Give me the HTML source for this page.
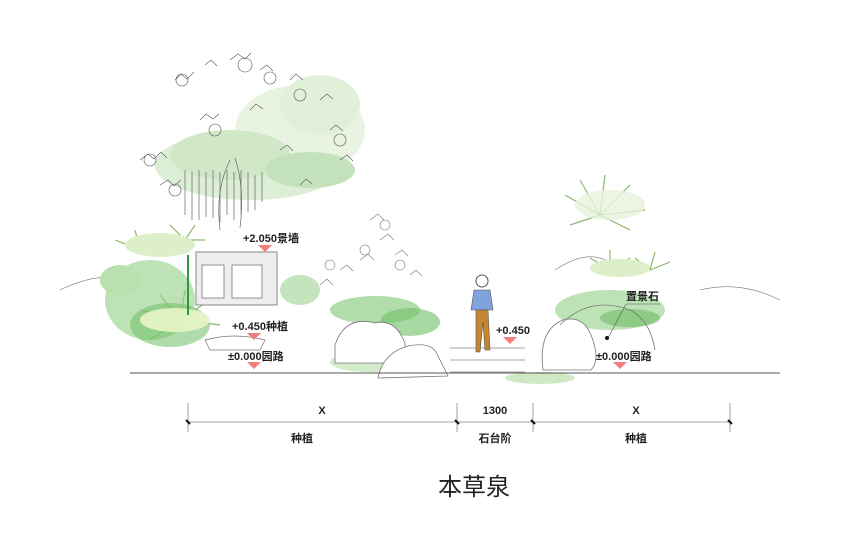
<!DOCTYPE html>
<html><head><meta charset="utf-8"><style>
html,body{margin:0;padding:0;background:#fff;width:860px;height:542px;overflow:hidden}
svg{display:block}
text{font-family:"Liberation Sans","Noto Sans CJK SC",sans-serif;fill:#222}
</style></head><body>
<svg width="860" height="542" viewBox="0 0 860 542">
<!-- tree canopy -->
<g opacity="0.85">
<ellipse cx="250" cy="165" rx="95" ry="35" fill="#d8ecd0"/>
<ellipse cx="300" cy="130" rx="65" ry="45" fill="#e4f2dc"/>
<ellipse cx="320" cy="105" rx="40" ry="30" fill="#dbeed3"/>
<ellipse cx="230" cy="155" rx="60" ry="25" fill="#c9e5bf"/>
<ellipse cx="310" cy="170" rx="45" ry="18" fill="#b9dcb0"/>
</g>
<g stroke="#666" stroke-width="0.7" fill="none">
<path d="M185 170 v45 M192 172 v48 M199 170 v50 M206 172 v45 M213 170 v48 M220 172 v50 M227 170 v45 M234 172 v48 M241 170 v45 M248 172 v40 M255 175 v35 M262 172 v30"/>
<path d="M220 230 q-5-40 10-70 M240 228 q5-40 -5-70"/>
</g>
<g stroke="#555" stroke-width="0.6" fill="none">
<path d="M140 160 l8-6 l6 5 l7-7 l6 6 M160 185 l8-5 6 6 7-6 M175 80 l6-6 6 5 7-7 M205 65 l6-5 6 6 M230 60 l8-6 7 5 6-6 M260 70 l7-5 6 6 M290 80 l6-6 7 6 M320 100 l7-6 6 5 M330 130 l6-5 7 6 M340 160 l7-5 6 6 M200 120 l6-6 7 5 6-5 M250 110 l6-6 7 5 M280 150 l7-5 6 6 M300 185 l6-6 6 5"/>
<circle cx="182" cy="80" r="6"/><circle cx="245" cy="65" r="7"/><circle cx="270" cy="78" r="6"/><circle cx="300" cy="95" r="6"/>
<circle cx="150" cy="160" r="6"/><circle cx="175" cy="190" r="6"/><circle cx="215" cy="130" r="6"/><circle cx="340" cy="140" r="6"/>
</g>
<!-- sketch mid trees -->
<g stroke="#777" stroke-width="0.6" fill="none">
<path d="M370 220 l8-6 6 6 M380 240 l8-6 6 6 M360 260 l8-6 6 6 M395 255 l7-5 6 6 M340 270 l7-5 6 6 M410 275 l6-5 6 6 M320 285 l7-6 6 6"/>
<circle cx="385" cy="225" r="5"/><circle cx="365" cy="250" r="5"/><circle cx="400" cy="265" r="5"/><circle cx="330" cy="265" r="5"/>
<path d="M60 290 q40-20 80-10 M700 290 q40-10 80 10 M555 270 q30-20 50-10"/>
</g>
<!-- spiky plants -->
<g stroke="#8ab86f" stroke-width="1.2" fill="none">
<path d="M600 215 l-35-20 M600 215 l-20-35 M600 215 l5-40 M600 215 l30-30 M600 215 l45-5 M600 215 l30 15 M600 215 l-30 10"/>
<path d="M140 250 l-25-10 M140 250 l-5-20 M140 250 l15-15 M140 250 l25-5 M185 240 l-15-15 M185 240 l10-15 M185 240 l20 0"/>
<path d="M180 320 l-40-10 M180 320 l-20-25 M180 320 l5-30 M180 320 l30-20 M180 320 l40 5 M180 320 l-30 20"/>
<path d="M610 270 l-20-12 M610 270 l0-20 M610 270 l20-12 M650 270 l-15-12 M650 270 l5-18 M650 270 l20-8"/>
</g>
<ellipse cx="610" cy="205" rx="35" ry="15" fill="#e6f3d9" opacity="0.8"/>
<ellipse cx="620" cy="268" rx="30" ry="9" fill="#dcefc9"/>
<!-- left green shrubs -->
<ellipse cx="150" cy="300" rx="45" ry="40" fill="#8fcf86" opacity="0.6"/>
<ellipse cx="170" cy="325" rx="40" ry="22" fill="#6fbf66" opacity="0.55"/>
<ellipse cx="160" cy="245" rx="35" ry="12" fill="#dcefc9"/>
<ellipse cx="120" cy="280" rx="20" ry="15" fill="#b9e0ae"/>
<ellipse cx="175" cy="320" rx="35" ry="12" fill="#eaf5c8" opacity="0.9"/>
<!-- wall -->
<rect x="196" y="252" width="81" height="53" fill="#eee" stroke="#888" stroke-width="1"/>
<rect x="202" y="265" width="22" height="33" fill="#fff" stroke="#777" stroke-width="0.8"/>
<rect x="232" y="265" width="30" height="33" fill="#fff" stroke="#777" stroke-width="0.8"/>
<line x1="188" y1="255" x2="188" y2="315" stroke="#2c9a3c" stroke-width="2"/>
<path d="M205 340 q30-8 60 0 l-5 10 h-50z" fill="#fff" stroke="#777" stroke-width="0.7"/>
<!-- mid shrubs & rocks -->
<ellipse cx="300" cy="290" rx="20" ry="15" fill="#a9d99f" opacity="0.7"/>
<ellipse cx="375" cy="310" rx="45" ry="14" fill="#8fcf86" opacity="0.7"/>
<ellipse cx="410" cy="322" rx="30" ry="14" fill="#6fbf66" opacity="0.6"/>
<ellipse cx="370" cy="362" rx="40" ry="10" fill="#bfe3b4" opacity="0.7"/>
<path d="M335 345 q10-30 40-22 q20-5 30 20 v20 h-70z" fill="#fff" stroke="#777" stroke-width="0.8"/>
<path d="M378 378 q5-25 30-32 q25-5 30 10 l10 20 z" fill="#fff" stroke="#777" stroke-width="0.8"/>
<!-- right rock & plants -->
<ellipse cx="610" cy="310" rx="55" ry="20" fill="#9fd596" opacity="0.7"/>
<ellipse cx="630" cy="318" rx="30" ry="9" fill="#5fb35a" opacity="0.5"/>
<path d="M543 370 q-5-40 20-50 q20-5 28 15 q10 25 0 35z" fill="#fff" stroke="#777" stroke-width="0.8"/>
<path d="M560 325 q30-30 70-15 q20 10 25 40" fill="none" stroke="#777" stroke-width="0.8"/>
<ellipse cx="540" cy="378" rx="35" ry="6" fill="#cfe9c4"/>
<!-- steps -->
<g stroke="#888" stroke-width="0.8" fill="none">
<path d="M450 348 h75 M450 360 h75 M450 372 h75"/>
</g>
<!-- person -->
<circle cx="482" cy="281" r="6" fill="#fff" stroke="#555"/>
<path d="M474 290 h16 l3 20 h-22z" fill="#7fa3dc" stroke="#555" stroke-width="0.6"/>
<path d="M476 310 h12 l2 40 h-5 l-2-28 -3 30 h-4z" fill="#c4862e" stroke="#555" stroke-width="0.6"/>
<!-- ground -->
<line x1="130" y1="373" x2="780" y2="373" stroke="#555" stroke-width="1"/>
<!-- labels -->
<g font-size="11" font-weight="bold">
<text x="243" y="242">+2.050景墙</text>
<text x="232" y="330">+0.450种植</text>
<text x="228" y="360">±0.000园路</text>
<text x="496" y="334">+0.450</text>
<text x="596" y="360">±0.000园路</text>
<text x="626" y="300">置景石</text>
</g>
<g fill="#f07f7f">
<path d="M258 245 h14 l-7 7z"/>
<path d="M247 333 h14 l-7 7z"/>
<path d="M247 362 h14 l-7 7z"/>
<path d="M503 337 h14 l-7 7z"/>
<path d="M613 362 h14 l-7 7z"/>
</g>
<line x1="626" y1="304" x2="660" y2="304" stroke="#555" stroke-width="0.6"/>
<line x1="626" y1="304" x2="608" y2="338" stroke="#555" stroke-width="0.6"/>
<circle cx="607" cy="338" r="2" fill="#111"/>
<!-- dimension -->
<g stroke="#888" stroke-width="0.8">
<line x1="188" y1="422" x2="730" y2="422"/>
<line x1="188" y1="403" x2="188" y2="432"/>
<line x1="457" y1="403" x2="457" y2="432"/>
<line x1="533" y1="403" x2="533" y2="432"/>
<line x1="730" y1="403" x2="730" y2="432"/>
</g>
<g stroke="#111" stroke-width="2">
<line x1="186" y1="420" x2="190" y2="424"/>
<line x1="455" y1="420" x2="459" y2="424"/>
<line x1="531" y1="420" x2="535" y2="424"/>
<line x1="728" y1="420" x2="732" y2="424"/>
</g>
<g font-size="11" text-anchor="middle" font-weight="bold">
<text x="322" y="414">X</text>
<text x="495" y="414">1300</text>
<text x="636" y="414">X</text>
<text x="302" y="442">种植</text>
<text x="495" y="442">石台阶</text>
<text x="636" y="442">种植</text>
</g>
<text x="474" y="495" font-size="24" text-anchor="middle">本草泉</text>
</svg>
</body></html>
